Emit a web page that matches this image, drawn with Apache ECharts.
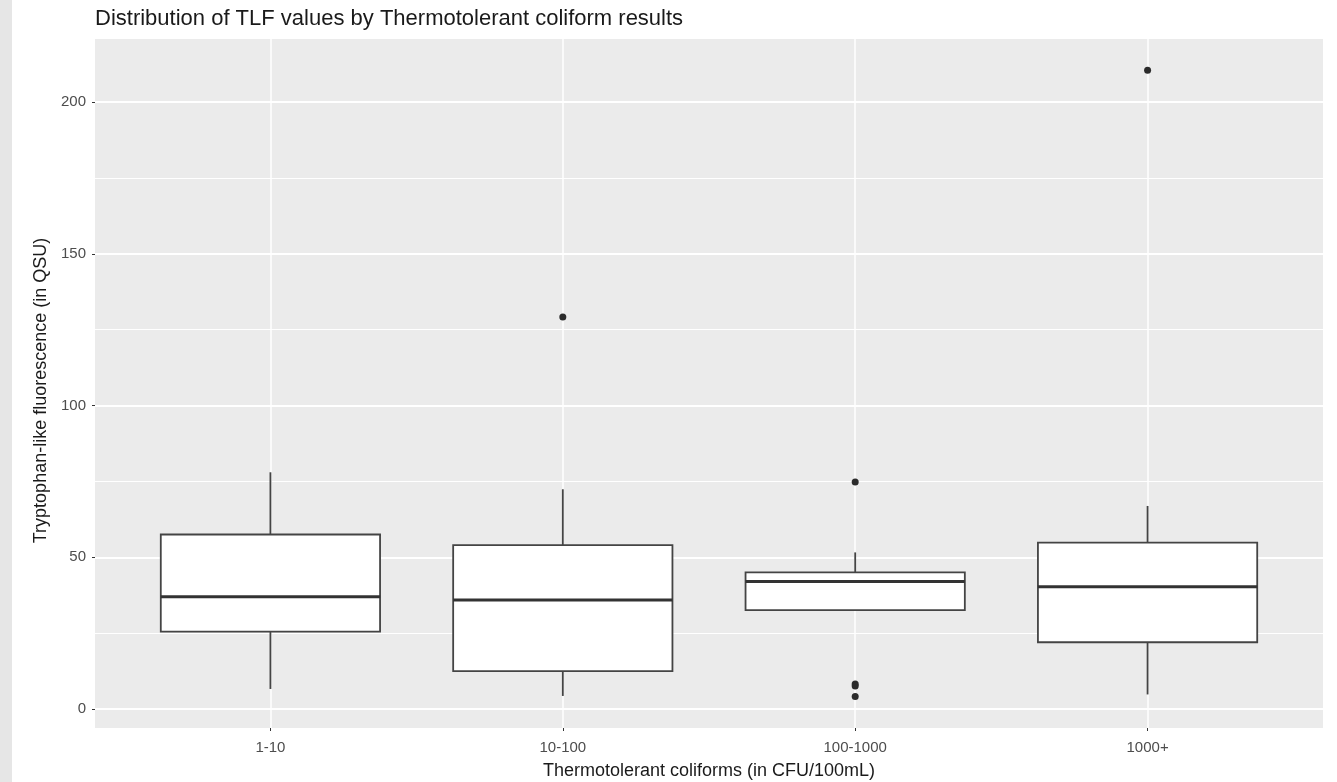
<!DOCTYPE html>
<html>
<head>
<meta charset="utf-8">
<script src="https://cdn.jsdelivr.net/npm/echarts@6/dist/echarts.min.js"></script>
<style>
  html, body { margin: 0; padding: 0; background: #fff; }
  #chart {
    width: 1337px;
    height: 782px;
    background: linear-gradient(to right, #e6e6e6 12px, #ffffff 12px);
  }
</style>
</head>
<body>
<div id="chart"></div>
<script>
// groups on the x axis (placed at 1..4)
const categories = ['1-10', '10-100', '100-1000', '1000+']
// box statistics (QSU)
const whiskerLow = [6.6, 4.3, 32.6, 4.8]
const q1 = [25.5, 12.5, 32.6, 22.0]
const median = [37.0, 35.9, 42.0, 40.3]
const q3 = [57.5, 54.0, 45.0, 54.8]
const whiskerHigh = [78.0, 72.4, 51.6, 66.9]
// outliers: [group index, value]
const outliers = [[1, 129.2], [2, 74.8], [2, 8.2], [2, 7.6], [2, 4.1], [3, 210.5]]
const yMajorTicks = [0, 50, 100, 150, 200]
const yMinorTicks = [25, 75, 125, 175]

const font = "'Liberation Sans', Arial, sans-serif"
const xPos = categories.map((c, i) => i + 1)

const boxData = categories.map((c, i) => [xPos[i], whiskerLow[i], q1[i], median[i], q3[i], whiskerHigh[i]])
const outlierData = outliers.map(([i, v]) => [xPos[i], v])

function renderBox(params, api) {
  const x = api.value(0)
  const half = 0.375
  const lo = api.coord([x, api.value(1)])
  const b1 = api.coord([x, api.value(2)])
  const hi = api.coord([x, api.value(5)])
  const b3 = api.coord([x, api.value(4)])
  const tl = api.coord([x - half, api.value(4)])
  const br = api.coord([x + half, api.value(2)])
  const ml = api.coord([x - half, api.value(3)])
  const mr = api.coord([x + half, api.value(3)])
  const stroke = '#444444'
  return {
    type: 'group',
    children: [
      { type: 'line', shape: { x1: hi[0], y1: hi[1], x2: b3[0], y2: b3[1] }, style: { stroke, lineWidth: 1.8 } },
      { type: 'line', shape: { x1: b1[0], y1: b1[1], x2: lo[0], y2: lo[1] }, style: { stroke, lineWidth: 1.8 } },
      {
        type: 'rect',
        shape: { x: tl[0], y: tl[1], width: br[0] - tl[0], height: br[1] - tl[1] },
        style: { fill: '#ffffff', stroke, lineWidth: 1.8 },
      },
      { type: 'line', shape: { x1: ml[0], y1: ml[1], x2: mr[0], y2: mr[1] }, style: { stroke: '#333333', lineWidth: 3 } },
    ],
  }
}

const chart = echarts.init(document.getElementById('chart'))
chart.setOption({
  animation: false,
  textStyle: { fontFamily: font },
  title: {
    text: 'Distribution of TLF values by Thermotolerant coliform results',
    left: 95,
    top: 8,
    padding: 0,
    textStyle: { fontFamily: font, fontSize: 22, fontWeight: 'normal', color: '#1a1a1a' },
  },
  grid: {
    left: 95, right: 14, top: 39, bottom: 54,
    outerBoundsMode: 'none',
    containLabel: false,
    show: true, backgroundColor: '#ebebeb', borderWidth: 0,
  },
  xAxis: {
    type: 'value',
    min: 0.4,
    max: 4.6,
    name: 'Thermotolerant coliforms (in CFU/100mL)',
    nameLocation: 'middle',
    nameGap: 34,
    nameTextStyle: { fontFamily: font, fontSize: 18, color: '#1a1a1a' },
    axisLine: { show: false, onZero: false },
    axisTick: { show: true, length: 3, customValues: xPos, lineStyle: { color: '#333333' } },
    axisLabel: {
      customValues: xPos,
      margin: 12,
      fontSize: 15,
      color: '#4d4d4d',
      formatter: (v) => categories[Math.round(v) - 1] || '',
    },
    splitLine: { show: true, lineStyle: { color: '#ffffff', width: 1.5 } },
  },
  yAxis: [
    {
      type: 'value',
      min: -6.26,
      max: 220.76,
      name: 'Tryptophan-like fluorescence (in QSU)',
      nameLocation: 'middle',
      nameGap: 38,
      nameTextStyle: { fontFamily: font, fontSize: 18, color: '#1a1a1a', padding: [0, 14, 0, 0] },
      axisLine: { show: false, onZero: false },
      axisTick: { show: true, length: 3, customValues: yMajorTicks, lineStyle: { color: '#333333' } },
      axisLabel: { customValues: yMajorTicks, margin: 9, fontSize: 15, color: '#4d4d4d' },
      splitLine: { show: true, lineStyle: { color: '#ffffff', width: 1.8 } },
    },
    {
      type: 'value',
      min: -6.26,
      max: 220.76,
      position: 'left',
      axisLine: { show: false, onZero: false },
      axisTick: { show: false, customValues: yMinorTicks },
      axisLabel: { show: false, customValues: yMinorTicks },
      splitLine: { show: true, lineStyle: { color: '#ffffff', width: 1.2 } },
    },
  ],
  series: [
    {
      type: 'custom',
      renderItem: renderBox,
      data: boxData,
      encode: { x: 0, y: [1, 2, 3, 4, 5] },
      z: 2,
    },
    {
      type: 'scatter',
      data: outlierData,
      symbolSize: 7,
      itemStyle: { color: '#2b2b2b', opacity: 1 },
      z: 3,
    },
  ],
})
</script>
</body>
</html>
